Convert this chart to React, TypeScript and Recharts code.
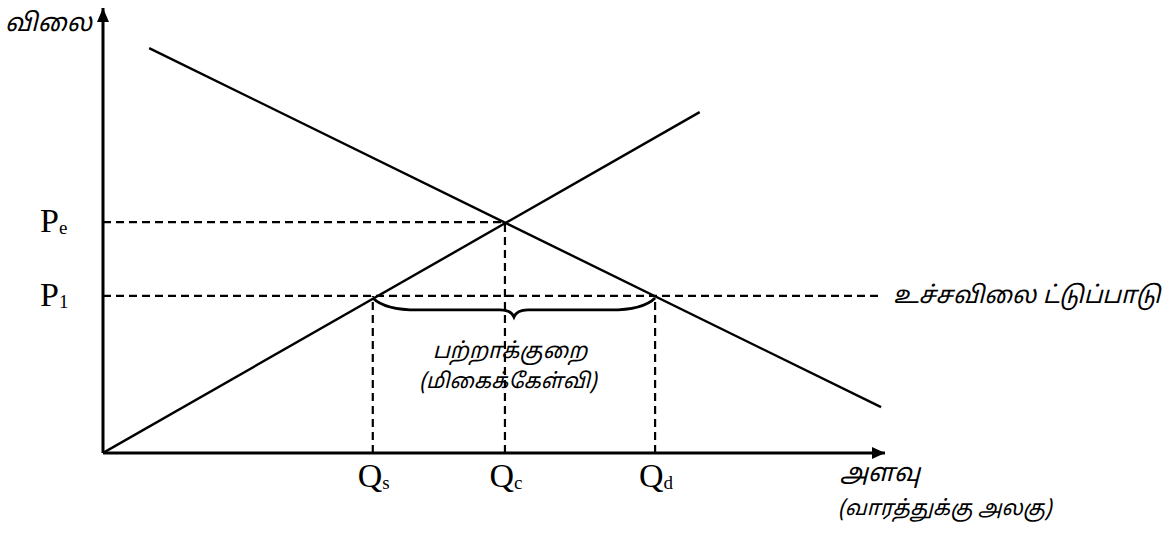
import { ComposedChart, Line, XAxis, YAxis, ReferenceLine, ReferenceDot } from 'recharts';

// quantity / price units: both axes run 0..100
const supplyX = [0, 76.3];
const supplyY = [0, 76.6];
const demandX = [5.9, 99.5];
const demandY = [91.0, 10.3];

const qTicks = [34.5, 51.4, 70.6];
const qSubs = ['s', 'c', 'd'];
const pTicks = [35.3, 51.9];
const pSubs = ['1', 'e'];

const Qs = qTicks[0];
const Qc = qTicks[1];
const Qd = qTicks[2];
const P1 = pTicks[0];
const Pe = pTicks[1];
const ceilingEnd = 99.4;

const supply = supplyX.map((x, i) => ({ x, y: supplyY[i] }));
const demand = demandX.map((x, i) => ({ x, y: demandY[i] }));

const TAMIL = "'Noto Sans Tamil', 'Lohit Tamil', 'Latha', 'Noto Sans', sans-serif";
const SERIF = "'Liberation Serif', 'DejaVu Serif', serif";
const dash = '8 5';

const QTick = (props: any) => {
  const { x, payload } = props;
  const i = qTicks.indexOf(payload.value);
  return (
    <text x={x + 1} y={487} textAnchor="middle" fontFamily={SERIF} fontSize={34} fill="#000">
      Q<tspan fontSize={19} dy={2}>{qSubs[i]}</tspan>
    </text>
  );
};

const PTick = (props: any) => {
  const { y, payload } = props;
  const i = pTicks.indexOf(payload.value);
  return (
    <text x={40} y={y + 10} textAnchor="start" fontFamily={SERIF} fontSize={34} fill="#000">
      P<tspan fontSize={19} dy={2}>{pSubs[i]}</tspan>
    </text>
  );
};

const Brace = (props: any) => {
  const { x1, y1, x2 } = props;
  const mid = (x1 + x2) / 2;
  const y = y1 + 2;
  const d = `M${x1},${y} Q${x1 + 12},${y + 12} ${x1 + 45},${y + 12} L${mid - 14},${y + 12} Q${mid - 3},${y + 12} ${mid},${y + 19} Q${mid + 3},${y + 12} ${mid + 14},${y + 12} L${x2 - 45},${y + 12} Q${x2 - 12},${y + 12} ${x2},${y}`;
  return <path d={d} fill="none" stroke="#000" strokeWidth={2.8} />;
};

const ArrowRight = (props: any) => (
  <path d={`M${props.cx},${props.cy} L${props.cx - 13},${props.cy - 6} L${props.cx - 13},${props.cy + 6} Z`} fill="#000" />
);
const ArrowUp = (props: any) => (
  <path d={`M${props.cx},${props.cy} L${props.cx - 6},${props.cy + 14} L${props.cx + 6},${props.cy + 14} Z`} fill="#000" />
);

const label = (left: number, top: number, size: number, text: string, center = false) => (
  <div
    style={{
      position: 'absolute',
      left,
      top,
      fontFamily: TAMIL,
      fontSize: size,
      fontStyle: 'italic',
      lineHeight: 1,
      whiteSpace: 'nowrap',
      color: '#000',
      transform: center ? 'translateX(-50%)' : undefined,
    }}
  >
    {text}
  </div>
);

export default function App() {
  return (
    <div style={{ position: 'absolute', left: 0, top: 0, width: 1173, height: 535, background: '#fff' }}>
      <ComposedChart width={1173} height={535} margin={{ top: 8, right: 288, bottom: 42, left: 43 }}>
        <XAxis
          type="number"
          dataKey="x"
          domain={[0, 100]}
          allowDataOverflow
          ticks={qTicks}
          tick={QTick}
          tickLine={false}
          height={40}
          axisLine={{ stroke: '#000', strokeWidth: 3 }}
        />
        <YAxis
          type="number"
          dataKey="y"
          domain={[0, 100]}
          allowDataOverflow
          ticks={pTicks}
          tick={PTick}
          tickLine={false}
          width={60}
          axisLine={{ stroke: '#000', strokeWidth: 3 }}
        />
        <ReferenceLine segment={[{ x: 0, y: Pe }, { x: Qc, y: Pe }]} stroke="#000" strokeWidth={2.2} strokeDasharray={dash} />
        <ReferenceLine segment={[{ x: 0, y: P1 }, { x: ceilingEnd, y: P1 }]} stroke="#000" strokeWidth={2.2} strokeDasharray={dash} />
        <ReferenceLine segment={[{ x: Qs, y: 0 }, { x: Qs, y: P1 }]} stroke="#000" strokeWidth={2.2} strokeDasharray={dash} />
        <ReferenceLine segment={[{ x: Qc, y: 0 }, { x: Qc, y: Pe }]} stroke="#000" strokeWidth={2.2} strokeDasharray={dash} />
        <ReferenceLine segment={[{ x: Qd, y: 0 }, { x: Qd, y: P1 }]} stroke="#000" strokeWidth={2.2} strokeDasharray={dash} />
        <ReferenceLine segment={[{ x: Qs, y: P1 }, { x: Qd, y: P1 }]} shape={Brace} />
        <Line data={supply} dataKey="y" stroke="#000" strokeWidth={2.4} dot={false} isAnimationActive={false} />
        <Line data={demand} dataKey="y" stroke="#000" strokeWidth={2.4} dot={false} isAnimationActive={false} />
        <ReferenceDot x={100} y={0} ifOverflow="visible" shape={ArrowRight} />
        <ReferenceDot x={0} y={100} ifOverflow="visible" shape={ArrowUp} />
      </ComposedChart>
      {label(5, 12, 25, 'விலை')}
      {label(893, 285, 24, 'உச்சவிலை ட்டுப்பாடு')}
      {label(510, 342, 22, 'பற்றாக்குறை', true)}
      {label(508, 373, 21, '(மிகைக்கேள்வி)', true)}
      {label(840, 462, 25, 'அளவு')}
      {label(838, 500, 21, '(வாரத்துக்கு அலகு)')}
    </div>
  );
}
